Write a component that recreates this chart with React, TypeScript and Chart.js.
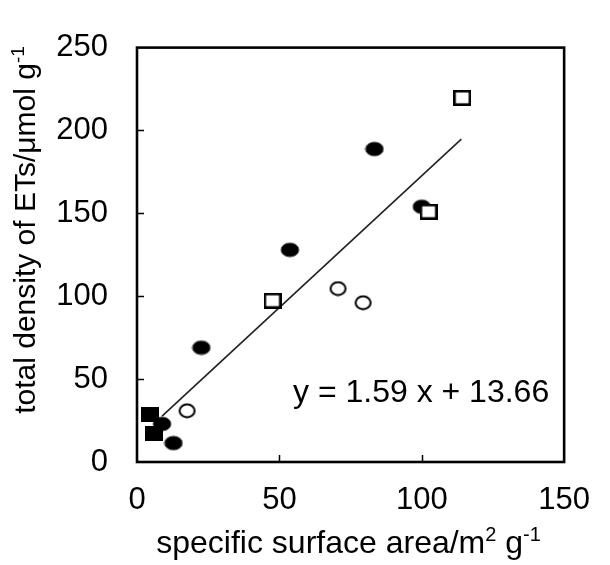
import React, { useEffect, useRef } from "react";
import { Chart, registerables } from "chart.js";

Chart.register(...registerables);

// ---- data ----
const xTickValues = [0, 50, 100, 150];
const yTickValues = [0, 50, 100, 150, 200, 250];

const filledCirclesX = [83.4, 100.0, 53.7, 22.6, 8.8, 12.8];
const filledCirclesY = [188.8, 154.0, 128.0, 69.0, 23.0, 11.4];
const filledSquaresX = [4.4, 6.0];
const filledSquaresY = [28.6, 17.0];
const openCirclesX = [17.6, 70.6, 79.4];
const openCirclesY = [30.9, 104.6, 96.1];
const openSquaresX = [47.6, 102.4, 114.2];
const openSquaresY = [97.3, 151.0, 219.7];

const fitSlope = 1.59;
const fitIntercept = 13.66;
const fitX = [8.8, 113.9];
const equationText = "y = 1.59 x + 13.66";

const xTitleParts = [
  { t: "specific surface area/m", sup: false },
  { t: "2", sup: true },
  { t: " g", sup: false },
  { t: "-1", sup: true },
];
const yTitleParts = [
  { t: "total density of ETs/\u03bcmol g", sup: false },
  { t: "-1", sup: true },
];

const FONT = "'Liberation Sans', Arial, sans-serif";

function pts(xs: number[], ys: number[]) {
  return xs.map((x, i) => ({ x, y: ys[i] }));
}

function makeMarker(kind: string): HTMLCanvasElement {
  const c = document.createElement("canvas");
  const ctx = c.getContext("2d")!;
  if (kind === "filledCircle") {
    c.width = 20; c.height = 16;
    ctx.beginPath();
    ctx.ellipse(10, 8, 9, 7, 0, 0, Math.PI * 2);
    ctx.fillStyle = "#000";
    ctx.fill();
    ctx.lineWidth = 1;
    ctx.strokeStyle = "#555";
    ctx.stroke();
  } else if (kind === "openCircle") {
    c.width = 19; c.height = 16;
    ctx.beginPath();
    ctx.ellipse(9.5, 8, 7.5, 6.5, 0, 0, Math.PI * 2);
    ctx.fillStyle = "#fff";
    ctx.fill();
    ctx.lineWidth = 2;
    ctx.strokeStyle = "#000";
    ctx.stroke();
  } else if (kind === "openSquare") {
    c.width = 18; c.height = 16;
    ctx.fillStyle = "#fff";
    ctx.fillRect(0, 0, 18, 16);
    ctx.lineWidth = 2.6;
    ctx.strokeStyle = "#000";
    ctx.strokeRect(1.3, 1.3, 15.4, 13.4);
  } else {
    c.width = 18; c.height = 15;
    ctx.fillStyle = "#000";
    ctx.fillRect(0, 0, 18, 15);
  }
  return c;
}

function drawParts(ctx: CanvasRenderingContext2D, parts: { t: string; sup: boolean }[], size: number, supSize: number) {
  const mainFont = `${size}px ${FONT}`;
  const supFont = `${supSize}px ${FONT}`;
  let total = 0;
  const widths = parts.map((p) => {
    ctx.font = p.sup ? supFont : mainFont;
    const w = ctx.measureText(p.t).width;
    total += w;
    return w;
  });
  let x = -total / 2;
  parts.forEach((p, i) => {
    ctx.font = p.sup ? supFont : mainFont;
    ctx.fillText(p.t, x, p.sup ? -size * 0.38 : 0);
    x += widths[i];
  });
}

const framePlugin = {
  id: "frame",
  afterDraw(chart: any) {
    const { ctx, chartArea } = chart;
    const xs = chart.scales.x;
    const ys = chart.scales.y;
    ctx.save();
    // border
    ctx.strokeStyle = "#000";
    ctx.lineWidth = 2.6;
    ctx.strokeRect(chartArea.left, chartArea.top, chartArea.right - chartArea.left, chartArea.bottom - chartArea.top);
    // inward ticks
    ctx.lineWidth = 1.5;
    ctx.beginPath();
    xTickValues.slice(1, -1).forEach((v) => {
      const px = Math.round(xs.getPixelForValue(v)) + 0.5;
      ctx.moveTo(px, chartArea.bottom);
      ctx.lineTo(px, chartArea.bottom - 7);
    });
    yTickValues.slice(1, -1).forEach((v) => {
      const py = Math.round(ys.getPixelForValue(v)) + 0.5;
      ctx.moveTo(chartArea.left, py);
      ctx.lineTo(chartArea.left + 7, py);
    });
    ctx.stroke();
    // titles
    ctx.fillStyle = "#000";
    ctx.textBaseline = "alphabetic";
    ctx.textAlign = "left";
    ctx.save();
    ctx.translate((chartArea.left + chartArea.right) / 2 - 2, 553);
    drawParts(ctx, xTitleParts, 32, 20);
    ctx.restore();
    ctx.save();
    ctx.translate(35, 230);
    ctx.rotate(-Math.PI / 2);
    drawParts(ctx, yTitleParts, 30, 19);
    ctx.restore();
    // equation
    ctx.font = `32px ${FONT}`;
    ctx.fillText(equationText, 293, 402);
    ctx.restore();
  },
};

export default function App() {
  const ref = useRef<HTMLCanvasElement | null>(null);
  useEffect(() => {
    if (!ref.current) return;
    const fitData = fitX.map((x) => ({ x, y: fitSlope * x + fitIntercept }));
    const tickFont = { family: FONT, size: 31 };
    const chart = new Chart(ref.current, {
      type: "scatter",
      data: {
        datasets: [
          { label: "open squares", data: pts(openSquaresX, openSquaresY), pointStyle: makeMarker("openSquare") as any, pointRadius: 5 },
          { label: "open circles", data: pts(openCirclesX, openCirclesY), pointStyle: makeMarker("openCircle") as any, pointRadius: 5 },
          { label: "filled squares", data: pts(filledSquaresX, filledSquaresY), pointStyle: makeMarker("filledSquare") as any, pointRadius: 5 },
          { label: "filled circles", data: pts(filledCirclesX, filledCirclesY), pointStyle: makeMarker("filledCircle") as any, pointRadius: 5 },
          { label: "fit", data: fitData, showLine: true, pointRadius: 0, borderColor: "#222", borderWidth: 1.6, fill: false } as any,
        ],
      },
      options: {
        responsive: false,
        animation: false,
        devicePixelRatio: 1,
        layout: { padding: { top: 25, right: 29, left: 0, bottom: 0 } },
        plugins: { legend: { display: false }, tooltip: { enabled: false } },
        scales: {
          x: {
            type: "linear",
            min: 0,
            max: 150,
            afterBuildTicks: (s: any) => { s.ticks = xTickValues.map((v) => ({ value: v })); },
            afterFit: (s: any) => { s.height = 103; },
            ticks: { font: tickFont, color: "#000", padding: 20, maxRotation: 0 },
            grid: { display: false, drawTicks: false },
            border: { display: false },
          },
          y: {
            type: "linear",
            min: 0,
            max: 250,
            afterBuildTicks: (s: any) => { s.ticks = yTickValues.map((v) => ({ value: v })); },
            afterFit: (s: any) => { s.width = 137; },
            ticks: { font: tickFont, color: "#000", padding: 29 },
            grid: { display: false, drawTicks: false },
            border: { display: false },
          },
        },
      },
      plugins: [framePlugin],
    });
    return () => chart.destroy();
  }, []);
  return (
    <div style={{ position: "absolute", left: 0, top: 0, width: 610, height: 565, background: "#fff" }}>
      <canvas ref={ref} width={610} height={565} />
    </div>
  );
}
